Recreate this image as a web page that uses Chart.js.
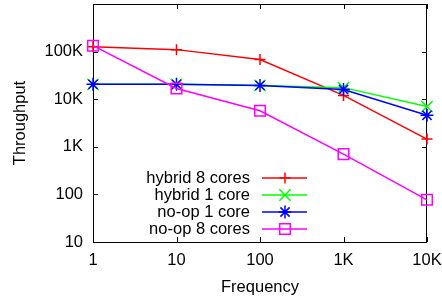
<!DOCTYPE html>
<html>
<head>
<meta charset="utf-8">
<script src="https://cdn.jsdelivr.net/npm/chart.js@4"></script>
<style>
  body { margin: 0; background: #fff; }
  canvas { display: block; }
</style>
</head>
<body>
<canvas id="chart" width="442" height="301"></canvas>
<script>
// Data (log-log)
const frequencies = [1, 10, 100, 1000, 10000];
const hybrid8 = [126000, 110000, 68000, 12000, 1450];
const hybrid1 = [20500, 20500, 19500, 17500, 7000];
const noop1 = [20500, 20500, 19500, 16000, 4600];
const noop8 = [133000, 16800, 5700, 700, 77];

const xTicks = [1, 10, 100, 1000, 10000];
const xTickLabels = ['1', '10', '100', '1K', '10K'];
const yTicks = [10, 100, 1000, 10000, 100000];
const yTickLabels = ['10', '100', '1K', '10K', '100K'];

const FONT = 'Liberation Sans, Arial, Helvetica, sans-serif';
const FSIZE = 16.5;

function toPoints(values) {
    return frequencies.map((f, i) => ({ x: f, y: values[i] }));
}

function makeDataset(label, values, color, style, radius, order) {
    return {
        label: label,
        data: toPoints(values),
        borderColor: color,
        backgroundColor: color,
        pointBorderColor: color,
        pointBackgroundColor: 'transparent',
        borderWidth: 1.5,
        pointStyle: style,
        pointRadius: radius,
        pointBorderWidth: 1.5,
        tension: 0,
        clip: false,
        order: order
    };
}

// Box around the plot with inward ticks, gnuplot style
const framePlugin = {
    id: 'frame',
    beforeDatasetsDraw(chart) {
        const ctx = chart.ctx;
        const a = chart.chartArea;
        const xs = chart.scales.x;
        const ys = chart.scales.y;
        const len = 5;
        ctx.save();
        ctx.strokeStyle = '#000';
        ctx.lineWidth = 1;
        ctx.strokeRect(a.left + 0.5, a.top + 0.5, a.right - a.left - 1, a.bottom - a.top);
        ctx.beginPath();
        xTicks.forEach(v => {
            const px = Math.round(xs.getPixelForValue(v)) + 0.5;
            ctx.moveTo(px, a.bottom); ctx.lineTo(px, a.bottom - len);
            ctx.moveTo(px, a.top); ctx.lineTo(px, a.top + len);
        });
        yTicks.forEach(v => {
            const py = Math.round(ys.getPixelForValue(v)) + 0.5;
            ctx.moveTo(a.left, py); ctx.lineTo(a.left + len, py);
            ctx.moveTo(a.right, py); ctx.lineTo(a.right - len, py);
        });
        ctx.stroke();
        ctx.restore();
    }
};

// Legend inside the plot: text on the left, line sample with marker on the right
const keyPlugin = {
    id: 'key',
    afterDraw(chart) {
        const ctx = chart.ctx;
        const textRight = 250, lineStart = 262, lineEnd = 307, markX = 285;
        const rows = [178, 195, 212, 229];
        ctx.save();
        ctx.font = FSIZE + 'px ' + FONT;
        ctx.textAlign = 'right';
        ctx.textBaseline = 'middle';
        chart.data.datasets.forEach((ds, i) => {
            const y = rows[i];
            ctx.fillStyle = '#000';
            ctx.fillText(ds.label, textRight, y);
            ctx.strokeStyle = ds.borderColor;
            ctx.lineWidth = ds.borderWidth;
            ctx.beginPath();
            ctx.moveTo(lineStart, y);
            ctx.lineTo(lineEnd, y);
            ctx.stroke();
            ctx.fillStyle = 'transparent';
            ctx.lineWidth = ds.pointBorderWidth;
            Chart.helpers.drawPoint(ctx, {
                pointStyle: ds.pointStyle,
                radius: ds.pointRadius,
                rotation: 0,
                borderWidth: ds.pointBorderWidth
            }, markX, y);
        });
        ctx.restore();
    }
};

function noPad(s) {
    s.paddingTop = 0; s.paddingBottom = 0;
    s.paddingLeft = 0; s.paddingRight = 0;
}

new Chart(document.getElementById('chart'), {
    type: 'line',
    data: {
        datasets: [
            makeDataset('hybrid 8 cores', hybrid8, '#ff0000', 'cross', 5.5, 4),
            makeDataset('hybrid 1 core', hybrid1, '#00ff00', 'crossRot', 8, 3),
            makeDataset('no-op 1 core', noop1, '#0000ff', 'star', 6.5, 2),
            makeDataset('no-op 8 cores', noop8, '#ff00ff', 'rect', 7.5, 1)
        ]
    },
    options: {
        responsive: false,
        animation: false,
        devicePixelRatio: 1,
        layout: { autoPadding: false, padding: { left: 0, right: 15, top: 4, bottom: 0 } },
        plugins: {
            legend: { display: false },
            tooltip: { enabled: false }
        },
        scales: {
            x: {
                type: 'logarithmic',
                min: 1,
                max: 10000,
                afterBuildTicks: s => { s.ticks = xTicks.map(v => ({ value: v })); },
                afterFit: s => { s.height = 59; noPad(s); },
                grid: { display: false, drawTicks: false },
                border: { display: false },
                ticks: {
                    color: '#000',
                    font: { family: FONT, size: FSIZE },
                    padding: 9,
                    maxRotation: 0,
                    autoSkip: false,
                    callback: (v, i) => xTickLabels[i]
                },
                title: {
                    display: true,
                    text: 'Frequency',
                    color: '#000',
                    font: { family: FONT, size: FSIZE },
                    padding: { top: 0, bottom: 4 }
                }
            },
            y: {
                type: 'logarithmic',
                min: 10,
                max: 1000000,
                afterBuildTicks: s => { s.ticks = yTicks.map(v => ({ value: v })); },
                afterFit: s => { s.width = 93; noPad(s); },
                grid: { display: false, drawTicks: false },
                border: { display: false },
                ticks: {
                    color: '#000',
                    font: { family: FONT, size: FSIZE },
                    padding: 10,
                    autoSkip: false,
                    callback: (v, i) => yTickLabels[i]
                },
                title: {
                    display: true,
                    text: 'Throughput',
                    color: '#000',
                    font: { family: FONT, size: FSIZE },
                    padding: { top: 11, bottom: 0 }
                }
            }
        }
    },
    plugins: [framePlugin, keyPlugin]
});
</script>
</body>
</html>
